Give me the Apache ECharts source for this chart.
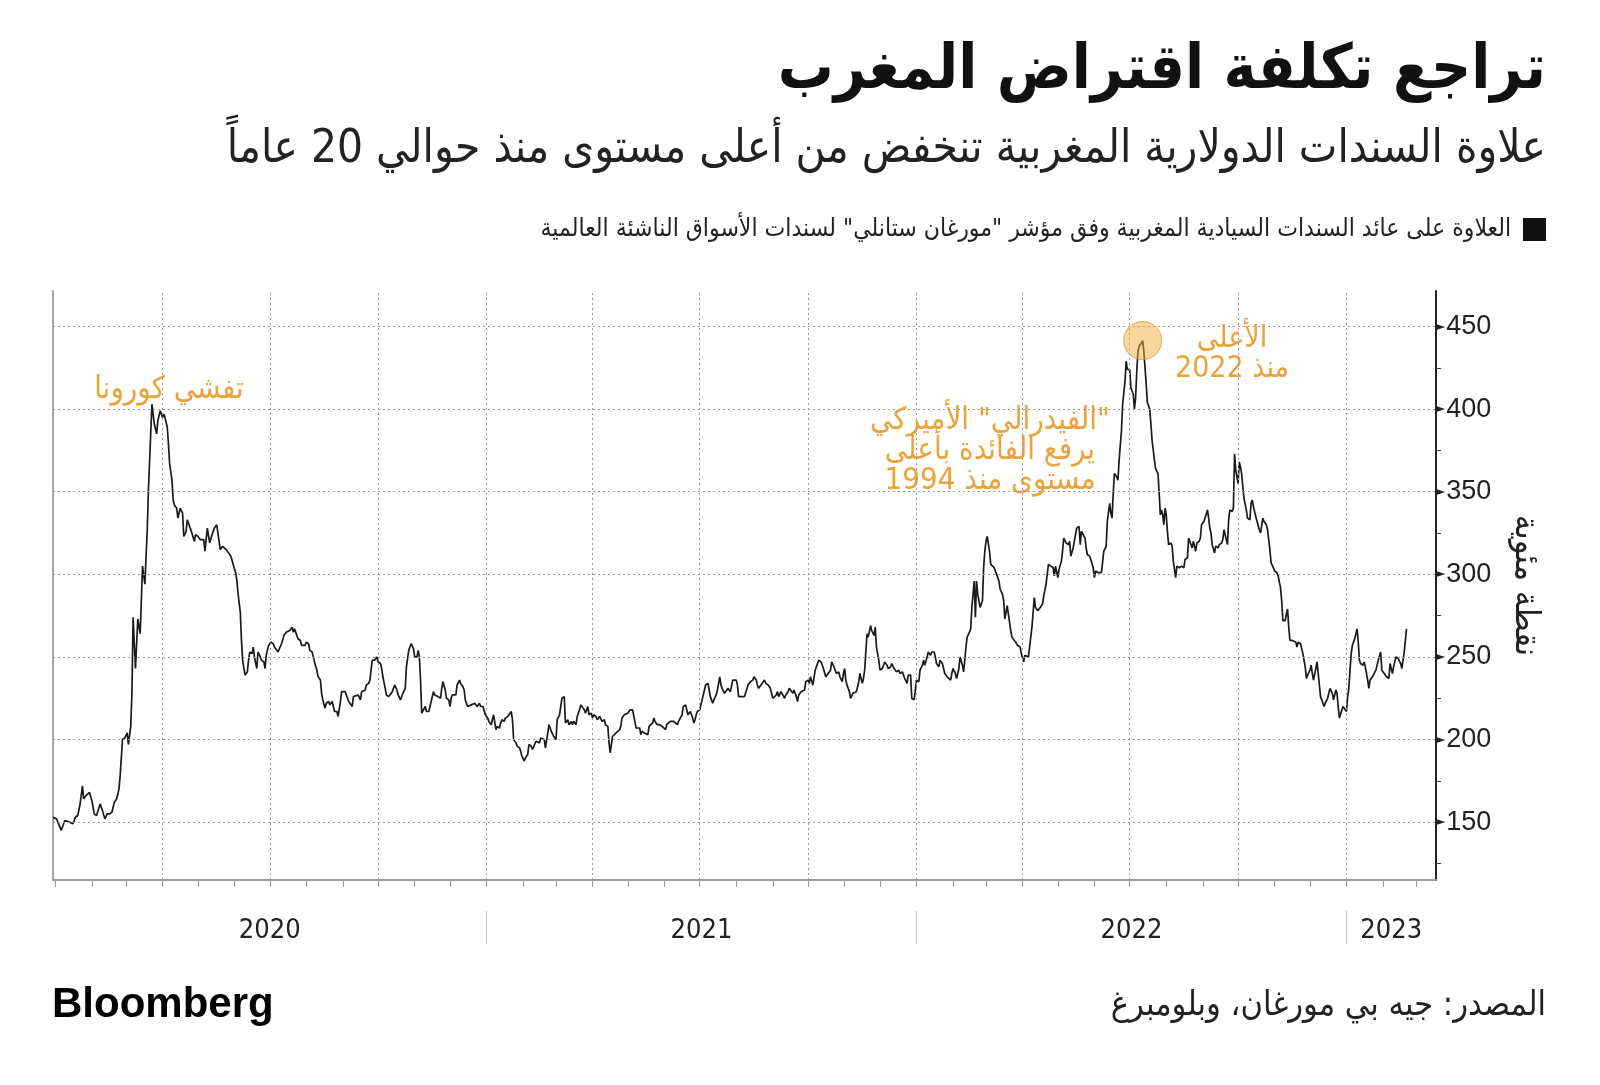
<!DOCTYPE html>
<html><head><meta charset="utf-8">
<script src="https://cdn.jsdelivr.net/npm/echarts@6/dist/echarts.min.js"></script>
<style>html,body{margin:0;padding:0;background:#fff}#chart{width:1600px;height:1085px}</style>
</head><body><div id="chart"></div>
<script>
// ---- Data: Morocco sovereign USD bond spread (bp) ----
const spread2020 = [
['2019-12-30',153],['2020-01-02',152],['2020-01-06',145],['2020-01-09',151],['2020-01-13',150],['2020-01-16',149],['2020-01-18',153],['2020-01-20',154],['2020-01-22',161],['2020-01-24',172],['2020-01-25',164],['2020-01-27',166],['2020-01-30',168],
['2020-02-01',163],['2020-02-03',155],['2020-02-05',154],['2020-02-08',161],['2020-02-10',157],['2020-02-12',152],['2020-02-14',155],['2020-02-16',155],['2020-02-18',156],['2020-02-20',162],['2020-02-22',164],['2020-02-24',170],['2020-02-25',178],['2020-02-27',200],['2020-02-29',201],
['2020-03-02',204],['2020-03-03',197],['2020-03-05',208],['2020-03-06',228],['2020-03-07',274],['2020-03-09',243],['2020-03-11',273],['2020-03-13',264],['2020-03-15',305],['2020-03-17',294],['2020-03-19',327],['2020-03-20',351],['2020-03-22',386],['2020-03-23',403],['2020-03-25',391],['2020-03-27',385],['2020-03-28',393],['2020-03-30',399],
['2020-04-01',395],['2020-04-02',397],['2020-04-03',395],['2020-04-05',389],['2020-04-06',379],['2020-04-07',367],['2020-04-09',357],['2020-04-10',345],['2020-04-11',342],['2020-04-13',340],['2020-04-14',334],['2020-04-16',340],['2020-04-18',337],['2020-04-19',323],['2020-04-21',326],['2020-04-22',333],['2020-04-24',329],['2020-04-25',327],['2020-04-26',328],['2020-04-28',320],['2020-04-29',324],
['2020-05-01',323],['2020-05-03',321],['2020-05-04',320],['2020-05-06',321],['2020-05-07',314],['2020-05-09',328],['2020-05-11',319],['2020-05-13',324],['2020-05-15',328],['2020-05-17',330],['2020-05-18',325],['2020-05-20',315],['2020-05-22',317],['2020-05-23',317],['2020-05-25',315],['2020-05-27',313],['2020-05-29',311],['2020-05-31',306],
['2020-06-02',301],['2020-06-03',297],['2020-06-04',289],['2020-06-06',277],['2020-06-07',260],['2020-06-08',248],['2020-06-10',239],['2020-06-12',241],['2020-06-13',248],['2020-06-14',253],['2020-06-16',252],['2020-06-17',256],['2020-06-18',250],['2020-06-20',243],['2020-06-21',253],['2020-06-23',250],['2020-06-24',248],['2020-06-26',247],['2020-06-27',243],['2020-06-28',251],['2020-06-30',257],
['2020-07-02',259],['2020-07-04',258],['2020-07-05',256],['2020-07-08',253],['2020-07-11',258],['2020-07-13',263],['2020-07-15',265],['2020-07-18',266],['2020-07-20',268],['2020-07-21',265],['2020-07-22',267],['2020-07-24',263],['2020-07-25',261],['2020-07-27',260],['2020-07-28',257],['2020-07-29',258],['2020-07-31',257],
['2020-08-01',259],['2020-08-03',258],['2020-08-04',254],['2020-08-06',253],['2020-08-07',254],['2020-08-08',247],['2020-08-10',242],['2020-08-11',238],['2020-08-13',236],['2020-08-14',228],['2020-08-15',224],['2020-08-17',219],['2020-08-18',222],['2020-08-20',223],['2020-08-21',221],['2020-08-23',223],['2020-08-24',220],['2020-08-25',217],['2020-08-27',217],['2020-08-28',214],['2020-08-30',223],['2020-08-31',229],
['2020-09-03',229],['2020-09-04',230],['2020-09-06',223],['2020-09-07',224],['2020-09-09',220],['2020-09-10',226],['2020-09-11',227],['2020-09-14',227],['2020-09-16',224],['2020-09-17',229],['2020-09-18',228],['2020-09-20',230],['2020-09-21',233],['2020-09-23',234],['2020-09-24',236],['2020-09-26',248],['2020-09-27',248],['2020-09-28',248],['2020-09-30',250],
['2020-10-01',247],['2020-10-03',246],['2020-10-04',243],['2020-10-05',238],['2020-10-07',231],['2020-10-08',227],['2020-10-10',226],['2020-10-11',225],['2020-10-13',229],['2020-10-14',230],['2020-10-15',233],['2020-10-17',230],['2020-10-18',227],['2020-10-20',224],['2020-10-21',225],['2020-10-22',228],['2020-10-24',231],['2020-10-25',244],['2020-10-27',254],['2020-10-28',256],['2020-10-29',258],['2020-10-31',255],
['2020-11-01',250],['2020-11-03',250],['2020-11-04',254],['2020-11-05',250],['2020-11-06',236],['2020-11-07',216],['2020-11-08',216],['2020-11-10',220],['2020-11-11',217],['2020-11-13',217],['2020-11-14',220],['2020-11-15',223],['2020-11-17',229],['2020-11-18',227],['2020-11-21',226],['2020-11-23',225],['2020-11-24',231],['2020-11-25',235],['2020-11-27',230],['2020-11-28',225],['2020-11-30',224],
['2020-12-01',220],['2020-12-02',225],['2020-12-03',227],['2020-12-04',226],['2020-12-06',227],['2020-12-07',233],['2020-12-09',236],['2020-12-10',234],['2020-12-12',232],['2020-12-13',230],['2020-12-14',224],['2020-12-16',220],['2020-12-17',220],['2020-12-19',221],['2020-12-22',222],['2020-12-24',220],['2020-12-26',222],['2020-12-27',220],['2020-12-29',220],['2020-12-30',219],['2020-12-31',215]
];
const spread2021 = [
['2021-01-02',213],['2021-01-03',211],['2021-01-05',209],['2021-01-06',210],['2021-01-07',215],['2021-01-09',206],['2021-01-10',208],['2021-01-12',207],['2021-01-13',210],['2021-01-14',212],['2021-01-16',211],['2021-01-17',213],['2021-01-19',214],['2021-01-20',214],['2021-01-22',217],['2021-01-23',212],['2021-01-24',200],['2021-01-26',198],['2021-01-27',196],['2021-01-29',195],['2021-01-30',193],['2021-01-31',190],
['2021-02-02',187],['2021-02-03',189],['2021-02-05',191],['2021-02-06',197],['2021-02-08',196],['2021-02-09',194],['2021-02-10',195],['2021-02-12',199],['2021-02-13',200],['2021-02-15',198],['2021-02-16',201],['2021-02-17',202],['2021-02-19',200],['2021-02-20',195],['2021-02-22',204],['2021-02-23',209],['2021-02-25',205],['2021-02-26',204],['2021-02-27',202],
['2021-03-01',200],['2021-03-02',212],['2021-03-04',215],['2021-03-05',220],['2021-03-06',225],['2021-03-08',226],['2021-03-09',210],['2021-03-11',212],['2021-03-12',209],['2021-03-14',211],['2021-03-15',209],['2021-03-16',211],['2021-03-18',209],['2021-03-19',214],['2021-03-21',218],['2021-03-22',221],['2021-03-23',220],['2021-03-25',218],['2021-03-26',216],['2021-03-28',220],['2021-03-29',215],['2021-03-31',216],
['2021-04-01',213],['2021-04-02',215],['2021-04-04',214],['2021-04-05',212],['2021-04-07',214],['2021-04-08',213],['2021-04-09',211],['2021-04-11',212],['2021-04-12',209],['2021-04-14',208],['2021-04-15',198],['2021-04-16',192],['2021-04-18',202],['2021-04-19',203],['2021-04-21',204],['2021-04-22',205],['2021-04-24',206],['2021-04-25',208],['2021-04-26',213],['2021-04-28',215],['2021-04-29',215],
['2021-05-01',216],['2021-05-02',217],['2021-05-03',218],['2021-05-05',218],['2021-05-06',217],['2021-05-08',207],['2021-05-09',206],['2021-05-11',207],['2021-05-12',203],['2021-05-13',205],['2021-05-15',204],['2021-05-16',204],['2021-05-18',203],['2021-05-19',208],['2021-05-20',208],['2021-05-22',210],['2021-05-23',213],['2021-05-24',211],['2021-05-26',209],['2021-05-27',210],['2021-05-28',209],['2021-05-30',208],['2021-05-31',207],
['2021-06-02',206],['2021-06-03',209],['2021-06-04',210],['2021-06-06',211],['2021-06-07',211],['2021-06-09',211],['2021-06-10',210],['2021-06-12',209],['2021-06-13',211],['2021-06-14',212],['2021-06-16',215],['2021-06-17',220],['2021-06-19',221],['2021-06-20',218],['2021-06-21',215],['2021-06-23',217],['2021-06-24',216],['2021-06-25',213],['2021-06-26',210],['2021-06-27',212],['2021-06-28',215],['2021-06-29',217],
['2021-07-01',218],['2021-07-02',219],['2021-07-03',224],['2021-07-05',230],['2021-07-06',233],['2021-07-08',234],['2021-07-09',230],['2021-07-10',226],['2021-07-12',222],['2021-07-13',224],['2021-07-15',227],['2021-07-16',230],['2021-07-17',234],['2021-07-18',238],['2021-07-19',233],['2021-07-20',231],['2021-07-22',228],['2021-07-23',229],['2021-07-25',231],['2021-07-26',230],['2021-07-27',229],['2021-07-29',236],['2021-07-30',236],
['2021-08-01',236],['2021-08-02',233],['2021-08-03',226],['2021-08-05',226],['2021-08-06',226],['2021-08-08',226],['2021-08-09',226],['2021-08-11',233],['2021-08-12',234],['2021-08-13',235],['2021-08-15',236],['2021-08-16',238],['2021-08-18',236],['2021-08-19',233],['2021-08-20',231],['2021-08-22',233],['2021-08-23',234],['2021-08-25',236],['2021-08-26',234],['2021-08-28',233],['2021-08-29',232],['2021-08-30',231],
['2021-09-01',225],['2021-09-02',224],['2021-09-04',227],['2021-09-05',229],['2021-09-06',226],['2021-09-08',229],['2021-09-09',230],['2021-09-11',225],['2021-09-12',227],['2021-09-14',229],['2021-09-15',231],['2021-09-16',232],['2021-09-18',228],['2021-09-19',230],['2021-09-21',226],['2021-09-22',223],['2021-09-23',227],['2021-09-25',229],['2021-09-26',228],['2021-09-28',230],['2021-09-29',235],
['2021-10-01',236],['2021-10-02',234],['2021-10-03',238],['2021-10-05',233],['2021-10-07',242],['2021-10-08',244],['2021-10-10',248],['2021-10-12',247],['2021-10-13',245],['2021-10-14',243],['2021-10-16',238],['2021-10-17',239],['2021-10-18',240],['2021-10-20',242],['2021-10-21',247],['2021-10-23',244],['2021-10-24',242],['2021-10-25',240],['2021-10-27',241],['2021-10-28',238],['2021-10-30',235],['2021-10-31',240],
['2021-11-01',243],['2021-11-02',236],['2021-11-03',233],['2021-11-05',229],['2021-11-06',225],['2021-11-08',228],['2021-11-09',227],['2021-11-11',229],['2021-11-12',232],['2021-11-13',235],['2021-11-14',240],['2021-11-16',234],['2021-11-17',237],['2021-11-18',242],['2021-11-20',264],['2021-11-21',262],['2021-11-23',269],['2021-11-24',266],['2021-11-26',263],['2021-11-27',268],['2021-11-28',256],['2021-11-30',248],
['2021-12-01',242],['2021-12-03',243],['2021-12-04',242],['2021-12-05',247],['2021-12-07',245],['2021-12-08',243],['2021-12-10',244],['2021-12-11',246],['2021-12-13',243],['2021-12-14',244],['2021-12-15',241],['2021-12-17',242],['2021-12-18',240],['2021-12-20',241],['2021-12-21',239],['2021-12-22',237],['2021-12-24',234],['2021-12-25',239],['2021-12-27',239],['2021-12-28',225],['2021-12-30',224],['2021-12-31',225]
];
const spread2022 = [
['2022-01-01',236],['2022-01-03',235],['2022-01-04',242],['2022-01-06',245],['2022-01-07',248],['2022-01-08',245],['2022-01-10',250],['2022-01-11',253],['2022-01-13',251],['2022-01-14',253],['2022-01-16',253],['2022-01-17',250],['2022-01-18',246],['2022-01-20',244],['2022-01-21',248],['2022-01-23',246],['2022-01-24',243],['2022-01-25',240],['2022-01-27',238],['2022-01-28',237],['2022-01-30',236],['2022-01-31',240],
['2022-02-01',243],['2022-02-03',240],['2022-02-04',237],['2022-02-06',243],['2022-02-07',250],['2022-02-09',245],['2022-02-10',241],['2022-02-11',248],['2022-02-12',256],['2022-02-13',262],['2022-02-15',265],['2022-02-16',267],['2022-02-17',280],['2022-02-18',288],['2022-02-19',296],['2022-02-20',274],['2022-02-21',296],['2022-02-22',288],['2022-02-24',280],['2022-02-25',282],['2022-02-26',284],['2022-02-27',304],['2022-02-28',314],
['2022-03-01',320],['2022-03-02',323],['2022-03-03',322],['2022-03-04',314],['2022-03-05',306],['2022-03-06',305],['2022-03-08',304],['2022-03-09',303],['2022-03-10',300],['2022-03-12',296],['2022-03-13',291],['2022-03-15',288],['2022-03-16',284],['2022-03-17',273],['2022-03-18',273],['2022-03-19',281],['2022-03-20',276],['2022-03-22',266],['2022-03-23',262],['2022-03-24',261],['2022-03-26',259],['2022-03-27',258],['2022-03-28',257],['2022-03-30',256],['2022-03-31',252],
['2022-04-01',251],['2022-04-02',247],['2022-04-03',251],['2022-04-04',250],['2022-04-06',250],['2022-04-07',256],['2022-04-09',268],['2022-04-11',286],['2022-04-12',280],['2022-04-14',278],['2022-04-16',280],['2022-04-18',282],['2022-04-19',287],['2022-04-21',294],['2022-04-23',306],['2022-04-25',305],['2022-04-27',304],['2022-04-28',299],['2022-04-29',305],
['2022-05-01',298],['2022-05-02',303],['2022-05-04',308],['2022-05-05',314],['2022-05-06',322],['2022-05-08',319],['2022-05-10',318],['2022-05-11',320],['2022-05-12',311],['2022-05-14',316],['2022-05-16',324],['2022-05-17',328],['2022-05-19',329],['2022-05-20',318],['2022-05-21',326],['2022-05-22',327],['2022-05-24',322],['2022-05-25',316],['2022-05-26',312],['2022-05-28',311],['2022-05-29',309],['2022-05-31',304],
['2022-06-01',298],['2022-06-02',302],['2022-06-04',301],['2022-06-05',302],['2022-06-07',301],['2022-06-08',302],['2022-06-09',314],['2022-06-11',317],['2022-06-12',332],['2022-06-14',343],['2022-06-15',337],['2022-06-16',334],['2022-06-17',349],['2022-06-18',361],['2022-06-20',359],['2022-06-21',357],['2022-06-22',369],['2022-06-24',387],['2022-06-25',403],['2022-06-27',417],['2022-06-28',429],['2022-06-29',424],
['2022-07-01',424],['2022-07-02',413],['2022-07-04',409],['2022-07-05',400],['2022-07-06',407],['2022-07-07',423],['2022-07-08',435],['2022-07-09',438],['2022-07-11',440],['2022-07-12',441.5],['2022-07-13',435],['2022-07-14',425],['2022-07-15',415],['2022-07-16',404],['2022-07-17',402],['2022-07-18',400],['2022-07-19',391],['2022-07-20',381],['2022-07-22',369],['2022-07-23',364],['2022-07-24',363],['2022-07-25',361],['2022-07-26',349],['2022-07-27',336],['2022-07-28',339],['2022-07-29',336],['2022-07-30',330],['2022-07-31',340],
['2022-08-01',336],['2022-08-02',326],['2022-08-03',318],['2022-08-05',319],['2022-08-06',317],['2022-08-07',308],['2022-08-09',298],['2022-08-10',305],['2022-08-12',304],['2022-08-13',305],['2022-08-14',305],['2022-08-16',304],['2022-08-17',309],['2022-08-19',310],['2022-08-20',322],['2022-08-21',320],['2022-08-23',316],['2022-08-24',320],['2022-08-26',314],['2022-08-27',319],['2022-08-29',320],['2022-08-30',322],['2022-08-31',330],
['2022-09-02',332],['2022-09-03',332],['2022-09-05',339],['2022-09-06',334],['2022-09-07',328],['2022-09-08',325],['2022-09-09',318],['2022-09-11',313],['2022-09-12',317],['2022-09-14',316],['2022-09-15',318],['2022-09-17',319],['2022-09-18',321],['2022-09-19',327],['2022-09-20',327],['2022-09-22',318],['2022-09-23',333],['2022-09-24',339],['2022-09-26',338],['2022-09-27',340],['2022-09-28',373],['2022-09-29',363],
['2022-10-01',355],['2022-10-02',368],['2022-10-03',365],['2022-10-04',361],['2022-10-05',353],['2022-10-06',346],['2022-10-08',339],['2022-10-09',334],['2022-10-11',333],['2022-10-12',343],['2022-10-13',345],['2022-10-14',341],['2022-10-16',335],['2022-10-17',334],['2022-10-19',327],['2022-10-20',325],['2022-10-21',324],['2022-10-22',334],['2022-10-23',332],['2022-10-25',330],['2022-10-26',327],['2022-10-27',321],['2022-10-28',315],['2022-10-29',307],['2022-10-31',304],
['2022-11-01',302],['2022-11-03',301],['2022-11-04',299],['2022-11-06',292],['2022-11-07',284],['2022-11-08',272],['2022-11-10',272],['2022-11-11',276],['2022-11-12',279],['2022-11-13',268],['2022-11-14',260],['2022-11-16',260],['2022-11-17',259],['2022-11-19',259],['2022-11-20',256],['2022-11-21',259],['2022-11-23',258],['2022-11-24',259],['2022-11-25',252],['2022-11-26',248],['2022-11-27',244],['2022-11-28',237],['2022-11-29',239],
['2022-12-01',242],['2022-12-02',245],['2022-12-03',240],['2022-12-04',236],['2022-12-06',243],['2022-12-07',247],['2022-12-08',240],['2022-12-10',226],['2022-12-11',225],['2022-12-13',220],['2022-12-14',222],['2022-12-16',225],['2022-12-17',228],['2022-12-18',231],['2022-12-20',228],['2022-12-21',224],['2022-12-23',230],['2022-12-24',228],['2022-12-25',220],['2022-12-26',213],['2022-12-27',213],['2022-12-29',220],['2022-12-30',221]
];
const spread2023 = [
['2023-01-01',217],['2023-01-02',226],['2023-01-03',231],['2023-01-04',242],['2023-01-05',252],['2023-01-06',257],['2023-01-08',261],['2023-01-09',260],['2023-01-10',267],['2023-01-11',259],['2023-01-12',248],['2023-01-13',246],['2023-01-15',245],['2023-01-16',247],['2023-01-17',244],['2023-01-19',236],['2023-01-20',231],['2023-01-21',236],['2023-01-23',238],['2023-01-24',239],['2023-01-26',242],['2023-01-27',243],['2023-01-28',248],['2023-01-30',253],['2023-01-31',242],
['2023-02-02',240],['2023-02-03',239],['2023-02-04',238],['2023-02-06',237],['2023-02-07',246],['2023-02-09',240],['2023-02-10',244],['2023-02-12',250],['2023-02-13',251],['2023-02-14',249],['2023-02-16',246],['2023-02-17',243],['2023-02-19',253],['2023-02-20',254],['2023-02-21',267]
];

// ---- Axes / labels ----
const axisStart = '2019-12-30';
const axisEnd = '2023-03-18';
const yMin = 115, yMax = 471.5;
const yLabelValues = [150, 200, 250, 300, 350, 400, 450];
const yTickValues = [125, 150, 175, 200, 225, 250, 275, 300, 325, 350, 375, 400, 425, 450];
const quarterLines = ['2020-04-01','2020-07-01','2020-10-01','2021-01-01','2021-04-01','2021-07-01','2021-10-01','2022-01-01','2022-04-01','2022-07-01','2022-10-01','2023-01-01'];
const yearStarts = ['2021-01-01','2022-01-01','2023-01-01'];
const yearLabels = ['2020','2021','2022','2023'];

// ---- Texts ----
const TITLE = 'تراجع تكلفة اقتراض المغرب';
const SUBTITLE = 'علاوة السندات الدولارية المغربية تنخفض من أعلى مستوى منذ حوالي 20 عاماً';
const SERIES_NAME = 'العلاوة على عائد السندات السيادية المغربية وفق مؤشر "مورغان ستانلي" لسندات الأسواق الناشئة العالمية';
const Y_NAME = 'نقطة مئوية';
const SOURCE = 'المصدر: جيه بي مورغان، وبلومبرغ';
const NOTE_COVID = 'تفشي كورونا';
const NOTE_FED = ['\u200F"الفيدرالي" الأميركي', 'يرفع الفائدة بأعلى', 'مستوى منذ 1994'];
const NOTE_HIGH = ['الأعلى', 'منذ 2022'];

const ORANGE = '#E9A33B';
const AR = "'DejaVu Sans Condensed', 'DejaVu Sans', sans-serif";
const NUM = "'Liberation Sans', Arial, sans-serif";

// date string -> timestamp (the x axis is a linear value axis in milliseconds)
function ts(s) { const p = s.split('-').map(Number); return Date.UTC(p[0], p[1] - 1, p[2]); }

const allData = [].concat(spread2020, spread2021, spread2022, spread2023).map(p => [ts(p[0]), p[1]]);

const monthTicks = [];
for (let y = 2020; y <= 2023; y++) for (let m = 0; m < 12; m++) {
  const t = Date.UTC(y, m, 1);
  if (t >= ts(axisStart) && t <= ts(axisEnd)) monthTicks.push(t);
}
const bounds = [ts(axisStart)].concat(yearStarts.map(ts), [ts(axisEnd)]);
const yearLabelPos = yearLabels.map((_, i) => (bounds[i] + bounds[i + 1]) / 2);
function yearFormatter(v) {
  let best = 0;
  yearLabelPos.forEach((p, i) => { if (Math.abs(p - v) < Math.abs(yearLabelPos[best] - v)) best = i; });
  return yearLabels[best];
}

const chart = echarts.init(document.getElementById('chart'), null, { renderer: 'canvas' });
chart.setOption({
  animation: false,
  backgroundColor: '#ffffff',
  grid: { left: 53, right: 164, top: 291, bottom: 205, containLabel: false, outerBoundsMode: 'none' },
  legend: {
    data: [SERIES_NAME], right: 54, top: 217, padding: 0, align: 'right', icon: 'rect',
    itemWidth: 23, itemHeight: 23, selectedMode: false,
    textStyle: { fontSize: 24.5, fontFamily: AR, color: '#222', padding: [5, 7, 0, 0] }
  },
  xAxis: [
    {
      type: 'value', min: ts(axisStart), max: ts(axisEnd), gridIndex: 0,
      axisLine: { onZero: false, lineStyle: { color: '#9c9c9c', width: 2 } },
      axisTick: { show: true, length: 7, customValues: monthTicks, lineStyle: { color: '#999', width: 1 } },
      axisLabel: { show: false }, splitLine: { show: false }
    },
    {
      type: 'value', min: ts(axisStart), max: ts(axisEnd), gridIndex: 0, position: 'bottom', offset: 31,
      axisLine: { show: false, onZero: false },
      axisTick: { show: true, length: 33, customValues: yearStarts.map(ts), lineStyle: { color: '#c4c4c4', width: 1 } },
      axisLabel: {
        show: true, customValues: yearLabelPos, margin: 6,
        formatter: yearFormatter,
        fontSize: 27, fontFamily: "'Liberation Sans Narrow', 'DejaVu Sans Condensed', sans-serif", color: '#222'
      },
      splitLine: { show: false }
    }
  ],
  yAxis: [
    {
      type: 'value', position: 'right', min: yMin, max: yMax, gridIndex: 0,
      name: Y_NAME, nameLocation: 'middle', nameGap: 72, nameRotate: -90,
      nameTextStyle: { fontSize: 34, fontFamily: AR, color: '#222' },
      axisLine: { show: true, onZero: false, lineStyle: { color: '#222', width: 2 } },
      axisTick: { show: true, length: 5, customValues: yTickValues, lineStyle: { color: '#444', width: 1 } },
      axisLabel: {
        show: true, customValues: yLabelValues, margin: 0,
        formatter: v => '{t|►}{n|' + v + '}',
        rich: {
          t: { fontSize: 12, color: '#222', fontFamily: "'DejaVu Sans', sans-serif", padding: [0, 1, 0, 0] },
          n: { fontSize: 27, color: '#222', fontFamily: NUM }
        }
      },
      splitLine: { show: false }
    },
    {
      type: 'value', position: 'left', min: yMin, max: yMax, gridIndex: 0,
      axisLine: { show: true, onZero: false, lineStyle: { color: '#a8a8a8', width: 2 } },
      axisTick: { show: false }, axisLabel: { show: false }, splitLine: { show: false }
    }
  ],
  series: [
    {
      type: 'line', data: allData, xAxisIndex: 0, yAxisIndex: 0, z: 1, silent: true,
      showSymbol: false, symbol: 'none', lineStyle: { opacity: 0 },
      markLine: {
        silent: true, symbol: ['none', 'none'], animation: false,
        label: { show: false }, emphasis: { disabled: true },
        lineStyle: { color: '#9a9a9a', width: 1, type: [2, 3] },
        data: quarterLines.map(d => ({ xAxis: ts(d) })).concat(yLabelValues.map(v => ({ yAxis: v })))
      }
    },
    {
      name: SERIES_NAME, type: 'line', data: allData, xAxisIndex: 0, yAxisIndex: 0, z: 3, silent: true,
      showSymbol: false, symbol: 'none',
      lineStyle: { color: '#1a1a1a', width: 1.7 }, itemStyle: { color: '#111' },
      markPoint: {
        symbol: 'circle', symbolSize: 38, silent: true, animation: false,
        data: [{ type: 'max' }], label: { show: false },
        itemStyle: { color: 'rgba(241,173,62,0.5)', borderColor: 'rgba(214,150,40,0.75)', borderWidth: 1 }
      }
    }
  ],
  graphic: [
    { type: 'text', x: 1546, y: 72, silent: true, style: { text: TITLE, fill: '#111', fontSize: 62, fontWeight: 'bold', fontFamily: AR, textAlign: 'right', textVerticalAlign: 'middle' } },
    { type: 'text', x: 1546, y: 150, silent: true, style: { text: SUBTITLE, fill: '#222', fontSize: 45.5, fontFamily: AR, textAlign: 'right', textVerticalAlign: 'middle' } },
    { type: 'text', x: 169, y: 390, silent: true, style: { text: NOTE_COVID, fill: ORANGE, fontSize: 31, fontFamily: AR, textAlign: 'center', textVerticalAlign: 'middle' } },
    { type: 'text', x: 990, y: 451, silent: true, style: { text: NOTE_FED.join('\n'), fill: ORANGE, fontSize: 31, lineHeight: 30, fontFamily: AR, textAlign: 'center', textVerticalAlign: 'middle' } },
    { type: 'text', x: 1232, y: 354, silent: true, style: { text: NOTE_HIGH.join('\n'), fill: ORANGE, fontSize: 30, lineHeight: 30, fontFamily: AR, textAlign: 'center', textVerticalAlign: 'middle' } },
    { type: 'text', x: 1546, y: 1006, silent: true, style: { text: SOURCE, fill: '#222', fontSize: 34, fontFamily: AR, textAlign: 'right', textVerticalAlign: 'middle' } },
    { type: 'text', x: 52, y: 1005, silent: true, style: { text: 'Bloomberg', fill: '#000', fontSize: 42, fontWeight: 'bold', fontFamily: NUM, textAlign: 'left', textVerticalAlign: 'middle' } }
  ]
});
</script></body></html>
